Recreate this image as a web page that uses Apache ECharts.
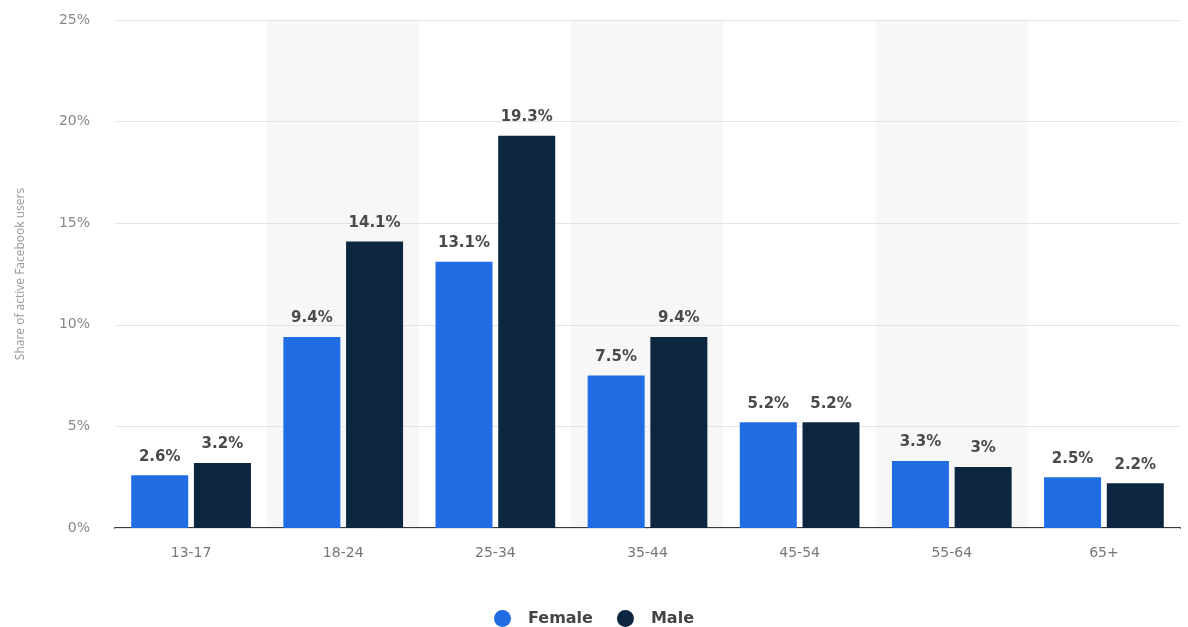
<!DOCTYPE html>
<html><head><meta charset="utf-8">
<script src="https://cdn.jsdelivr.net/npm/echarts@6/dist/echarts.min.js"></script>
<style>html,body{margin:0;padding:0;background:#fff}#c{width:1188px;height:627px}</style>
</head><body><div id="c"></div>
<script>
const categories = ['13-17','18-24','25-34','35-44','45-54','55-64','65+'];
const female = [2.6, 9.4, 13.1, 7.5, 5.2, 3.3, 2.5];
const male = [3.2, 14.1, 19.3, 9.4, 5.2, 3.0, 2.2];
const yTicks = [0, 5, 10, 15, 20, 25];
const chart = echarts.init(document.getElementById('c'));
const labelStyle = {show:true, position:'top', distance:11, formatter: p => p.value + '%', fontFamily:'DejaVu Sans', fontWeight:'bold', fontSize:15, color:'#4a4a4a'};
chart.setOption({
  animation:false,
  textStyle:{fontFamily:'DejaVu Sans'},
  grid:{left:115, right:8, top:20, bottom:99},
  legend:{top:605, left:'center', icon:'circle', itemWidth:17, itemHeight:17, itemGap:24,
    textStyle:{fontFamily:'DejaVu Sans', fontWeight:'bold', fontSize:16, color:'#444', padding:[0,0,0,12]},
    data:['Female','Male']},
  xAxis:{type:'category', data:categories, z:0,
    axisLine:{lineStyle:{color:'#3a3a3a', width:2}}, axisTick:{show:false},
    axisLabel:{color:'#777', fontSize:14, margin:18},
    splitArea:{show:true, areaStyle:{color:['#ffffff','#f7f7f7']}}},
  yAxis:{type:'value', z:1, min:yTicks[0], max:yTicks[yTicks.length-1], interval:5,
    name:'Share of active Facebook users', nameLocation:'middle', nameGap:88, nameRotate:90,
    nameTextStyle:{color:'#999', fontSize:12, fontFamily:'Open Sans'},
    axisLabel:{color:'#888', fontSize:14, margin:25, formatter: v => v + '%'},
    splitLine:{lineStyle:{color:'#e4e4e4', type:'solid'}}},
  series:[
    {name:'Female', type:'bar', data:female, barWidth:57, barGap:'10%', itemStyle:{color:'#1f6ce3'}, label:labelStyle},
    {name:'Male', type:'bar', data:male, barWidth:57, itemStyle:{color:'#0c2640'}, label:labelStyle}
  ]
});
</script></body></html>
